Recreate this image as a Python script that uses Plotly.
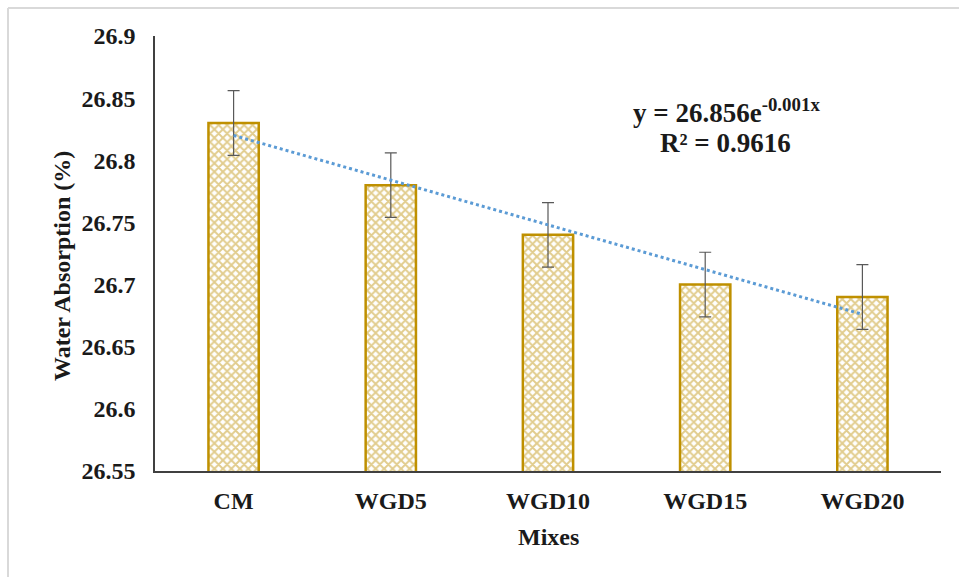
import numpy as np
import plotly.graph_objects as go

# Water absorption of the mixes
mixes = ["CM", "WGD5", "WGD10", "WGD15", "WGD20"]
absorption = [26.83, 26.78, 26.74, 26.70, 26.69]
abs_error = [0.026, 0.026, 0.026, 0.026, 0.026]
y_ticks = [26.55, 26.6, 26.65, 26.7, 26.75, 26.8, 26.85, 26.9]

# Exponential trendline fitted on mix index 1..n
idx = np.arange(1, len(mixes) + 1)
b, ln_a = np.polyfit(idx, np.log(absorption), 1)
trend = np.exp(ln_a) * np.exp(b * idx)

W, H = 959, 577
L, R, T, B = 155, 18, 36, 106
pw, ph = W - L - R, H - T - B

def px_x(p):
    return (p - L) / pw

def px_y(p):
    return (H - B - p) / ph

FONT = "Liberation Serif"
GOLD = "#BF9000"
INK = "#1a1a1a"

fig = go.Figure()
fig.add_trace(go.Bar(
    x=mixes, y=absorption, width=0.32,
    marker=dict(
        color="white",
        line=dict(color=GOLD, width=2.5),
        pattern=dict(shape="x", fgcolor="#C49A1C", bgcolor="white", size=6, solidity=0.55),
    ),
    error_y=dict(type="data", array=abs_error, color="#595959", thickness=1.2, width=6),
    showlegend=False,
))
fig.add_trace(go.Scatter(
    x=mixes, y=trend, mode="lines",
    line=dict(color="#5B9BD5", width=3, dash="dot"),
    showlegend=False,
))

def label(text, xp, yp, size, angle=0):
    fig.add_annotation(
        x=px_x(xp), y=px_y(yp), xref="paper", yref="paper",
        xanchor="center", yanchor="middle",
        text=text, showarrow=False, textangle=angle,
        font=dict(family=FONT, size=size, color=INK),
    )

label("<b>y = 26.856e<sup>-0.001x</sup></b>", 726, 111, 27)
label("<b>R² = 0.9616</b>", 725, 143, 27)
label("<b>Water Absorption (%)</b>", 62, 266, 24, angle=-90)
label("<b>Mixes</b>", 548, 537, 24)

# light frame on the top and left edges
fig.add_shape(type="line", xref="paper", yref="paper",
              x0=px_x(8), x1=px_x(W + 20), y0=px_y(8), y1=px_y(8),
              line=dict(color="#d9d9d9", width=2))
fig.add_shape(type="line", xref="paper", yref="paper",
              x0=px_x(8), x1=px_x(8), y0=px_y(8), y1=px_y(H + 20),
              line=dict(color="#d9d9d9", width=2))

fig.update_layout(
    width=W, height=H,
    margin=dict(l=L, r=R, t=T, b=B),
    paper_bgcolor="white", plot_bgcolor="white",
    font=dict(family=FONT, size=24, color=INK),
)
fig.update_xaxes(
    showline=True, linecolor="#404040", linewidth=1.5,
    ticks="", showgrid=False, ticklabelstandoff=7,
    tickfont=dict(family=FONT, size=24, color=INK, weight="bold"),
)
fig.update_yaxes(
    range=[26.55, 26.9], tickvals=y_ticks, tickformat=".2~f",
    showline=True, linecolor="#404040", linewidth=1.5,
    ticks="", showgrid=False, zeroline=False, ticklabelstandoff=13,
    tickfont=dict(family=FONT, size=24, color=INK, weight="bold"),
)

fig.write_html("out.html")
